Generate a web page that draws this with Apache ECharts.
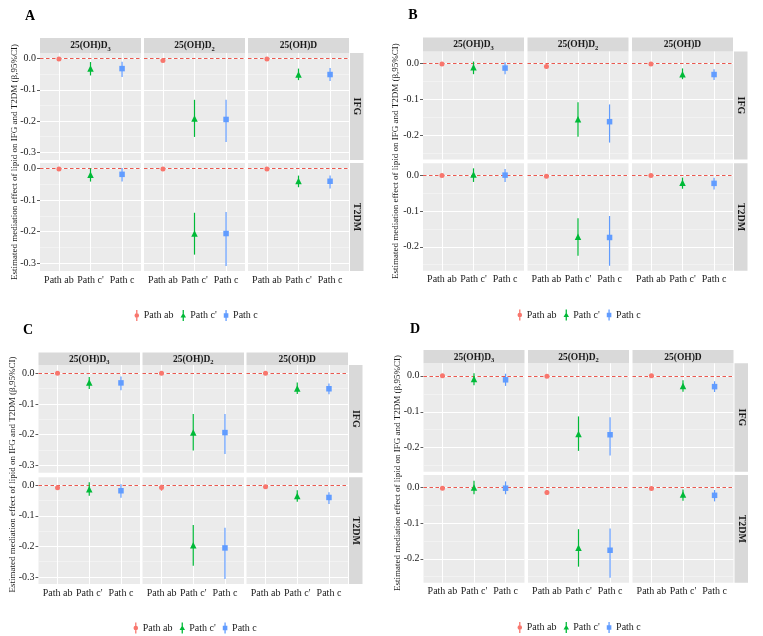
<!DOCTYPE html>
<html><head><meta charset="utf-8">
<script src="https://cdn.jsdelivr.net/npm/echarts@6/dist/echarts.min.js"></script>
<style>html,body{margin:0;padding:0;background:#fff}#c{width:763px;height:636px}</style>
</head><body><div id="c"></div>
<script>
// ---------- data ----------
const panelLabels = ['A', 'B', 'C', 'D'];
const metaboliteLabels = ['{b|25(OH)D}{s|3}', '{b|25(OH)D}{s|2}', '{b|25(OH)D}'];
const outcomes = ['IFG', 'T2DM'];
const paths = ['Path ab', "Path c'", 'Path c'];
const yTitle = 'Estimated mediation effect of lipid on IFG and T2DM (\u03b2,95%CI)';
const ticksAC = [0, -0.1, -0.2, -0.3];
const ticksBD = [0, -0.1, -0.2];
const minorTicks = [-0.05, -0.15, -0.25];
const xTicks = [1, 2, 3];
const yRangeA = [-0.325, 0.018];
const yRangeB = [-0.267, 0.033];
const yRangeC = [-0.323, 0.026];
const yRangeD = [-0.267, 0.035];

// values: [metabolite D3, D2, D][path ab, c', c]
const A_IFG_est  = [[-0.001, -0.032, -0.032], [-0.006, -0.192, -0.195], [-0.001, -0.051, -0.051]];
const A_IFG_lo   = [[-0.003, -0.054, -0.059], [-0.010, -0.251, -0.267], [-0.003, -0.069, -0.072]];
const A_IFG_hi   = [[ 0.001, -0.011, -0.010], [-0.002, -0.132, -0.132], [ 0.001, -0.032, -0.030]];
const A_T2DM_est = [[-0.001, -0.019, -0.018], [-0.001, -0.206, -0.206], [-0.001, -0.039, -0.040]];
const A_T2DM_lo  = [[-0.003, -0.041, -0.041], [-0.003, -0.273, -0.309], [-0.003, -0.059, -0.063]];
const A_T2DM_hi  = [[ 0.001,  0.001,  0.002], [ 0.001, -0.140, -0.138], [ 0.001, -0.022, -0.022]];

const B_IFG_est  = [[-0.002, -0.011, -0.013], [-0.009, -0.155, -0.162], [-0.002, -0.030, -0.031]];
const B_IFG_lo   = [[-0.004, -0.030, -0.030], [-0.013, -0.204, -0.220], [-0.004, -0.044, -0.046]];
const B_IFG_hi   = [[ 0.000,  0.005,  0.003], [-0.005, -0.108, -0.114], [ 0.000, -0.014, -0.016]];
const B_T2DM_est = [[-0.001,  0.002,  0.000], [-0.003, -0.172, -0.174], [-0.001, -0.021, -0.023]];
const B_T2DM_lo  = [[-0.003, -0.019, -0.019], [-0.005, -0.225, -0.253], [-0.003, -0.038, -0.040]];
const B_T2DM_hi  = [[ 0.001,  0.019,  0.017], [-0.001, -0.120, -0.114], [ 0.001, -0.007, -0.007]];

const C_IFG_est  = [[-0.001, -0.031, -0.032], [-0.001, -0.193, -0.193], [-0.001, -0.050, -0.051]];
const C_IFG_lo   = [[-0.003, -0.052, -0.056], [-0.003, -0.251, -0.262], [-0.003, -0.068, -0.069]];
const C_IFG_hi   = [[ 0.001, -0.013, -0.011], [ 0.001, -0.133, -0.133], [ 0.001, -0.031, -0.034]];
const C_T2DM_est = [[-0.008, -0.013, -0.018], [-0.007, -0.196, -0.205], [-0.005, -0.035, -0.040]];
const C_T2DM_lo  = [[-0.011, -0.034, -0.041], [-0.018, -0.263, -0.307], [-0.007, -0.054, -0.061]];
const C_T2DM_hi  = [[-0.005,  0.010,  0.003], [ 0.002, -0.130, -0.139], [-0.003, -0.016, -0.023]];

const D_IFG_est  = [[ 0.000, -0.009, -0.011], [-0.001, -0.162, -0.164], [ 0.000, -0.028, -0.030]];
const D_IFG_lo   = [[-0.002, -0.026, -0.028], [-0.003, -0.209, -0.222], [-0.002, -0.044, -0.045]];
const D_IFG_hi   = [[ 0.002,  0.007,  0.006], [ 0.001, -0.113, -0.115], [ 0.002, -0.012, -0.015]];
const D_T2DM_est = [[-0.002,  0.000, -0.002], [-0.014, -0.169, -0.176], [-0.003, -0.020, -0.022]];
const D_T2DM_lo  = [[-0.004, -0.019, -0.019], [-0.021, -0.222, -0.253], [-0.005, -0.037, -0.039]];
const D_T2DM_hi  = [[ 0.000,  0.019,  0.017], [-0.007, -0.117, -0.115], [-0.001, -0.006, -0.007]];

// ---------- assembly ----------
const panelData = [
  {IFG: [A_IFG_est, A_IFG_lo, A_IFG_hi], T2DM: [A_T2DM_est, A_T2DM_lo, A_T2DM_hi], ticks: ticksAC, range: yRangeA},
  {IFG: [B_IFG_est, B_IFG_lo, B_IFG_hi], T2DM: [B_T2DM_est, B_T2DM_lo, B_T2DM_hi], ticks: ticksBD, range: yRangeB},
  {IFG: [C_IFG_est, C_IFG_lo, C_IFG_hi], T2DM: [C_T2DM_est, C_T2DM_lo, C_T2DM_hi], ticks: ticksAC, range: yRangeC},
  {IFG: [D_IFG_est, D_IFG_lo, D_IFG_hi], T2DM: [D_T2DM_est, D_T2DM_lo, D_T2DM_hi], ticks: ticksBD, range: yRangeD}
];

// layout (pixels)
const layout = [
  {left: 40,    colW: 101,   gap: 3,   stripTop: 38,    stripH: 15,   rows: [[53, 160], [163, 271]],         labelX: 30,  labelY: 16,  titleX: 15,  legendLeft: 129.5, legendTop: 305},
  {left: 423,   colW: 101,   gap: 3.5, stripTop: 37.5,  stripH: 14,   rows: [[51.5, 159.5], [163.3, 270.8]], labelX: 413, labelY: 15,  titleX: 396, legendLeft: 512.5, legendTop: 304.5},
  {left: 38.5,  colW: 101.5, gap: 2.5, stripTop: 352.5, stripH: 12.5, rows: [[365, 472.7], [477.3, 584]],   labelX: 28,  labelY: 330, titleX: 13,  legendLeft: 128.5, legendTop: 617.5},
  {left: 423.5, colW: 101,   gap: 3.5, stripTop: 350,   stripH: 13.3, rows: [[363.3, 471.7], [475, 582.7]],  labelX: 415, labelY: 329, titleX: 398, legendLeft: 512.5, legendTop: 617}
];

const colors = ['#F8766D', '#00BA38', '#619CFF'];
const symbols = ['circle', 'triangle', 'rect'];
const symbolSizes = [5, 6.5, 5.5];
const legendIcons = [
  'path://M4.3,0H5.7V12H4.3Z M5,3.5A2.5,2.5 0 1 1 5,8.5A2.5,2.5 0 1 1 5,3.5Z',
  'path://M4.3,0H5.7V12H4.3Z M5,3L8,8.3H2Z',
  'path://M4.3,0H5.7V12H4.3Z M2.5,3.5H7.5V8.5H2.5Z'
];
const FONT = '"Liberation Serif", "Times New Roman", serif';
const TXT = '#1a1a1a';

const grids = [], xAxes = [], yAxes = [], series = [], graphics = [], legends = [];

layout.forEach((L, p) => {
  const pd = panelData[p];
  const stripRight = L.left + 3 * L.colW + 2 * L.gap;
  outcomes.forEach((oc, r) => {
    const [top, bottom] = L.rows[r];
    const [est, lo, hi] = pd[oc];
    for (let c = 0; c < 3; c++) {
      const g = grids.length;
      const x0 = L.left + c * (L.colW + L.gap);
      grids.push({left: x0, top: top, width: L.colW, height: bottom - top, show: true,
        backgroundColor: '#EBEBEB', borderWidth: 0, containLabel: false});
      const isBottom = r === 1, isLeft = c === 0;
      xAxes.push({type: 'value', gridIndex: g, min: 0.4, max: 3.6,
        axisLine: {show: false},
        axisTick: {show: isBottom, customValues: xTicks, length: 3, lineStyle: {color: '#333', width: 0.8}},
        axisLabel: {show: isBottom, customValues: xTicks, formatter: v => paths[Math.round(v) - 1],
          fontFamily: FONT, fontSize: 10, color: TXT, margin: 4},
        splitLine: {show: false}
      });
      yAxes.push({type: 'value', gridIndex: g, min: pd.range[0], max: pd.range[1],
        axisLine: {show: false},
        axisTick: {show: isLeft, customValues: pd.ticks, length: 3, lineStyle: {color: '#333', width: 0.8}},
        axisLabel: {show: isLeft, customValues: pd.ticks, formatter: v => v.toFixed(1),
          fontFamily: FONT, fontSize: 10, color: TXT, margin: 4},
        splitLine: {show: false}
      });
      // grid lines + dashed zero reference line
      const glines = [];
      minorTicks.forEach(v => glines.push({yAxis: v, lineStyle: {color: '#F6F6F6', width: 0.6, type: 'solid'}}));
      pd.ticks.forEach(v => glines.push({yAxis: v, lineStyle: {color: '#FFFFFF', width: 1.1, type: 'solid'}}));
      xTicks.forEach(v => glines.push({xAxis: v, lineStyle: {color: '#FFFFFF', width: 1.1, type: 'solid'}}));
      glines.push({yAxis: 0, lineStyle: {color: '#E8463C', width: 0.9, type: [3.5, 2.5]}});
      series.push({
        type: 'custom', coordinateSystem: 'cartesian2d', xAxisIndex: g, yAxisIndex: g, z: 1, silent: true,
        data: [[1, 0]], renderItem: () => ({type: 'group', children: []}),
        markLine: {silent: true, z: 1, symbol: ['none', 'none'], label: {show: false}, animation: false, data: glines}
      });
      for (let k = 0; k < 3; k++) {
        series.push({
          name: paths[k], type: 'custom', coordinateSystem: 'cartesian2d',
          xAxisIndex: g, yAxisIndex: g, z: 3, silent: true,
          itemStyle: {color: colors[k]},
          data: [[k + 1, lo[c][k], hi[c][k]]],
          encode: {x: 0, y: [1, 2]},
          renderItem: (params, api) => {
            const a = api.coord([api.value(0), api.value(1)]);
            const b = api.coord([api.value(0), api.value(2)]);
            return {type: 'line', shape: {x1: a[0], y1: a[1], x2: b[0], y2: b[1]},
              style: {stroke: colors[k], lineWidth: 1.2}};
          }
        });
        series.push({
          name: paths[k], type: 'scatter', xAxisIndex: g, yAxisIndex: g, z: 4, silent: true,
          symbol: symbols[k], symbolSize: symbolSizes[k], itemStyle: {color: colors[k], opacity: 1},
          data: [[k + 1, est[c][k]]]
        });
      }
    }
    // right strip
    graphics.push({type: 'rect', silent: true, shape: {x: stripRight + 1, y: top, width: 13.5, height: bottom - top},
      style: {fill: '#D9D9D9'}});
    graphics.push({type: 'text', silent: true, x: stripRight + 7.8, y: (top + bottom) / 2, rotation: -Math.PI / 2,
      style: {text: oc, fontFamily: FONT, fontWeight: 'bold', fontSize: 10, fill: TXT, align: 'center', verticalAlign: 'middle'}});
  });
  // top strips
  for (let c = 0; c < 3; c++) {
    const x0 = L.left + c * (L.colW + L.gap);
    graphics.push({type: 'rect', silent: true, shape: {x: x0, y: L.stripTop, width: L.colW, height: L.stripH},
      style: {fill: '#D9D9D9'}});
    graphics.push({type: 'text', silent: true, x: x0 + L.colW / 2, y: L.stripTop + L.stripH / 2 + 0.5,
      style: {text: metaboliteLabels[c], align: 'center', verticalAlign: 'middle', fill: TXT,
        rich: {b: {fontFamily: FONT, fontWeight: 'bold', fontSize: 9.5, fill: TXT},
               s: {fontFamily: FONT, fontWeight: 'bold', fontSize: 6.5, fill: TXT, padding: [6, 0, 0, 0]}}}});
  }
  // panel letter
  graphics.push({type: 'text', silent: true, x: L.labelX, y: L.labelY,
    style: {text: panelLabels[p], fontFamily: FONT, fontWeight: 'bold', fontSize: 14, fill: '#000', align: 'center', verticalAlign: 'middle'}});
  // y title
  graphics.push({type: 'text', silent: true, x: L.titleX, y: (L.rows[0][0] + L.rows[1][1]) / 2, rotation: Math.PI / 2,
    style: {text: yTitle, fontFamily: FONT, fontSize: 9, fill: TXT, align: 'center', verticalAlign: 'middle'}});
  // legend
  legends.push({left: L.legendLeft, top: L.legendTop, orient: 'horizontal', itemWidth: 6, itemHeight: 11, itemGap: 7,
    selectedMode: false,
    data: paths.map((n, k) => ({name: n, icon: legendIcons[k], itemStyle: {color: colors[k]}})),
    textStyle: {fontFamily: FONT, fontSize: 10, color: TXT, padding: [0, 0, 0, -1]}});
});

const chart = echarts.init(document.getElementById('c'), null, {renderer: 'canvas'});
chart.setOption({
  animation: false,
  backgroundColor: '#fff',
  grid: grids,
  xAxis: xAxes,
  yAxis: yAxes,
  series: series,
  legend: legends,
  graphic: graphics
});
</script></body></html>
